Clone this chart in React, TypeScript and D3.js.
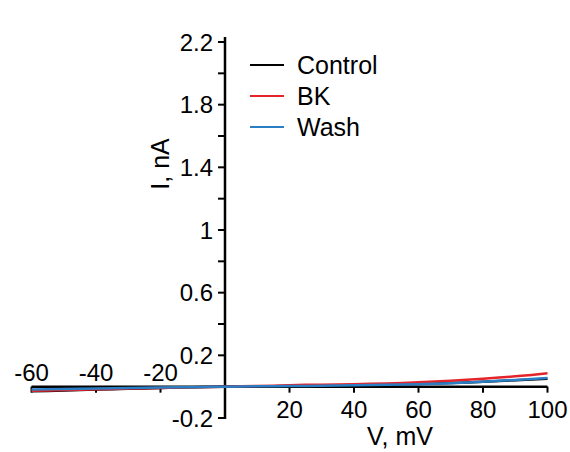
import React from "react";
import * as d3 from "d3";

const voltages = [-60, -55, -50, -45, -40, -35, -30, -25, -20, -15, -10, -5, 0, 5, 10, 15, 20, 25, 30, 35, 40, 45, 50, 55, 60, 65, 70, 75, 80, 85, 90, 95, 100];
const controlValues = [-0.03, -0.027, -0.024, -0.021, -0.018, -0.016, -0.013, -0.011, -0.009, -0.006, -0.004, -0.002, 0, 0.001, 0.002, 0.003, 0.004, 0.005, 0.006, 0.008, 0.009, 0.011, 0.013, 0.015, 0.017, 0.02, 0.023, 0.027, 0.031, 0.036, 0.041, 0.046, 0.051];
const bkValues = [-0.026, -0.024, -0.022, -0.02, -0.017, -0.015, -0.012, -0.01, -0.008, -0.006, -0.004, -0.002, 0, 0.002, 0.004, 0.006, 0.009, 0.012, 0.013, 0.014, 0.016, 0.019, 0.021, 0.024, 0.028, 0.033, 0.038, 0.044, 0.05, 0.058, 0.066, 0.075, 0.085];
const washValues = [-0.018, -0.016, -0.015, -0.013, -0.011, -0.01, -0.008, -0.007, -0.005, -0.004, -0.003, -0.001, 0, 0.001, 0.002, 0.003, 0.004, 0.005, 0.006, 0.007, 0.009, 0.01, 0.012, 0.014, 0.016, 0.019, 0.022, 0.026, 0.031, 0.037, 0.043, 0.049, 0.055];

const seriesNames = ["Control", "BK", "Wash"];
const seriesColors = ["#000000", "#e3242b", "#2a7fc4"];
const seriesData = [controlValues, bkValues, washValues];

const xTicksPos = [20, 40, 60, 80, 100];
const xTicksNeg = [-60, -40, -20];
const yMajorTicks = [-0.2, 0.2, 0.6, 1, 1.4, 1.8, 2.2];
const yMinorTicks = [0, 0.4, 0.8, 1.2, 1.6, 2.0];

const FONT = "'Liberation Sans', Arial, Helvetica, sans-serif";

export default function App() {
  const x = d3.scaleLinear().domain([-60, 100]).range([31.5, 547.5]);
  const y = d3.scaleLinear().domain([-0.2, 2.2]).range([418, 42]);
  const x0 = x(0);
  const y0 = y(0);
  const line = d3
    .line<[number, number]>()
    .x((d) => x(d[0]))
    .y((d) => y(d[1]));

  return (
    <svg
      width={570}
      height={452}
      style={{ position: "absolute", left: 0, top: 0, background: "#fff" }}
      fontFamily={FONT}
    >
      <rect width={570} height={452} fill="#fff" />
      {/* x axis */}
      <line x1={x(-60)} x2={x(100)} y1={y0} y2={y0} stroke="#000" strokeWidth={2.5} />
      {[...xTicksNeg, ...xTicksPos].map((t) => (
        <line key={t} x1={x(t)} x2={x(t)} y1={y0} y2={y0 + 6} stroke="#000" strokeWidth={2} />
      ))}
      {xTicksPos.map((t) => (
        <text key={t} x={x(t)} y={418} fontSize={24} textAnchor="middle">
          {t}
        </text>
      ))}
      {xTicksNeg.map((t) => (
        <text key={t} x={x(t)} y={381} fontSize={24} textAnchor="middle">
          {t}
        </text>
      ))}
      <text x={400} y={445} fontSize={25} textAnchor="middle">
        V, mV
      </text>

      {/* y axis */}
      <line x1={x0} x2={x0} y1={37} y2={y(-0.2) + 1} stroke="#000" strokeWidth={2.5} />
      {[...yMajorTicks, ...yMinorTicks].map((t) => (
        <line key={t} x1={x0 - 7} x2={x0} y1={y(t)} y2={y(t)} stroke="#000" strokeWidth={2} />
      ))}
      {yMajorTicks.map((t) => (
        <text key={t} x={213} y={y(t)} dy="0.36em" fontSize={24} textAnchor="end">
          {t}
        </text>
      ))}
      <text
        transform={`translate(169,164) rotate(-90)`}
        fontSize={25}
        textAnchor="middle"
      >
        I, nA
      </text>

      {/* series */}
      {seriesData.map((vals, i) => (
        <path
          key={seriesNames[i]}
          d={line(voltages.map((v, j) => [v, vals[j]] as [number, number])) || ""}
          fill="none"
          stroke={seriesColors[i]}
          strokeWidth={2.5}
        />
      ))}

      {/* legend */}
      {seriesNames.map((n, i) => (
        <g key={n} transform={`translate(250,${65 + i * 31})`}>
          <line x1={0} x2={34} y1={0} y2={0} stroke={seriesColors[i]} strokeWidth={2} />
          <text x={47} y={0} dy="0.36em" fontSize={25}>
            {n}
          </text>
        </g>
      ))}
    </svg>
  );
}
